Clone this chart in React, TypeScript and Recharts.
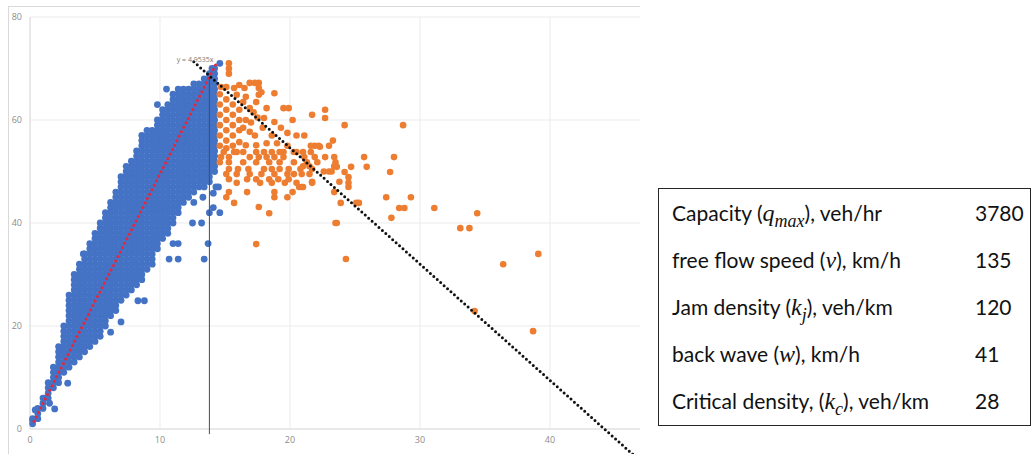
import React from 'react';
import {
  ScatterChart,
  Scatter,
  XAxis,
  YAxis,
  CartesianGrid,
  ReferenceLine,
  ReferenceDot,
} from 'recharts';

const densityTicks = [0, 10, 20, 30, 40];
const flowTicks = [0, 20, 40, 60, 80];

// uncongested cloud: per density column, the lowest and highest flow seen
const cloudDensity = [
  0.2, 0.6, 1.0, 1.4, 1.8, 2.2, 2.6, 3.0, 3.4, 3.8, 4.2, 4.6, 5.0, 5.4, 5.8, 6.2, 6.6, 7.0,
  7.4, 7.8, 8.2, 8.6, 9.0, 9.4, 9.8, 10.2, 10.6, 11.0, 11.4, 11.8, 12.2, 12.6, 13.0, 13.4, 13.8, 14.2,
];
const cloudFlowLow = [
  1, 2, 4, 6, 8, 9, 11, 12, 13, 14, 15, 16, 17, 18, 20, 22, 23, 25,
  26, 27, 28, 29, 31, 32, 35, 37, 38, 40, 42, 44, 45, 46, 47, 47, 48, 50,
];
const cloudFlowHigh = [
  2, 4, 6, 9, 12, 16, 20, 26, 30, 32, 34, 36, 38, 40, 42, 44, 46, 49,
  50, 52, 54, 57, 58, 58, 60, 62, 63, 65, 66, 66, 66, 67, 67, 68, 69, 70,
];

// scattered uncongested observations outside the cloud
const freeFlowStray: [number, number][] = [
  [0.2, 1.7], [0.4, 3.7], [1.1, 6], [1.5, 5], [1.9, 3.9], [2.9, 8.9], [4.1, 34], [6.2, 18.8],
  [7.0, 20.8], [7.4, 51], [8.3, 24.9], [8.8, 24.9], [9.8, 63], [10.5, 66], [10.7, 33], [11.4, 33],
  [11.4, 36], [11.0, 36], [12.5, 40], [13.2, 40], [13.4, 33], [13.7, 36], [13.8, 42], [14.6, 42],
  [14.1, 43], [14.1, 45.8], [14.3, 47], [14.5, 47], [13.3, 45], [12.6, 44], [13.3, 49], [14.6, 71],
  [14.0, 70],
];

// congested observations
const congestedPoints: [number, number][] = [
  [15.3, 71], [15.3, 70], [15.3, 69], [14.7, 66.4], [15.1, 66.4], [15.7, 66.2], [16.1, 66.8],
  [16.5, 66.2], [16.9, 67.2], [17.3, 67.2], [17.6, 67.2], [17.6, 66.2], [17.8, 65.4], [18.8, 65.2],
  [15.9, 64.9], [17.6, 64.9], [16.4, 63.5], [17.4, 63.5], [19.5, 62.3], [19.9, 62.3], [16.9, 62.3],
  [18.2, 62.3], [22.7, 62], [21.7, 61], [18, 60.4], [18.8, 59.6], [20.2, 60], [22.7, 60.4],
  [24.2, 59], [28.7, 59], [20.5, 57], [21.1, 57], [16.9, 57.7], [17.3, 57], [18.6, 57], [23.3, 56],
  [16.1, 55.7], [16.6, 55.1], [17.4, 55.1], [18.2, 55.5], [19, 55.5], [19.8, 55], [21.9, 55],
  [22.3, 54.8], [23, 55], [21.6, 55], [22.2, 55],
  [15.9, 53.8], [16.4, 53.8], [17.4, 53.8], [18.6, 53.8], [19.2, 53.8], [20.3, 53.8], [21.6, 53.8],
  [14.9, 53.8], [15.7, 53.8], [18, 53.8], [19.5, 53.8], [20.5, 53.8], [21, 53.8],
  [14.7, 52.8], [15.3, 52.8], [16.9, 52.8], [17.6, 52.8], [18.2, 52.8], [18.8, 52.8], [19.5, 52.8],
  [21.1, 52.8], [21.9, 52.8], [22.7, 52.8], [23.4, 52.8], [25.7, 52.8], [28, 52.8],
  [14.6, 51.8], [15.3, 51.8], [16.4, 51.8], [17.4, 51.8], [18.4, 51.8], [19.2, 51.8], [20.3, 51.8],
  [21.3, 51.8], [22.1, 51.8], [23.5, 51.8], [23.4, 51],
  [15.3, 50.5], [16, 50.5], [16.8, 50.5], [18, 50.5], [18.6, 50.5], [19.2, 50.5], [19.9, 50.5],
  [20.8, 50.5], [21.7, 50.5], [23.6, 50.9], [24.7, 50.9], [25.9, 50.9], [21, 51], [21.5, 51],
  [15.1, 49.5], [15.9, 49.5], [16.9, 49.5], [17.8, 49.5], [18.8, 49.5], [19.8, 49.5], [20.3, 49.5],
  [20.9, 49.5], [21.5, 49.5], [22.6, 50], [23, 50], [23.2, 50], [24.2, 49.9], [27.7, 49.9],
  [15.3, 48.5], [16.7, 48.5], [17.4, 48.5], [18.4, 48.5], [19.1, 48.5], [19.9, 48.5], [24.5, 48.9],
  [23.8, 48], [21.7, 48],
  [15.9, 47.8], [17.7, 47.8], [18.6, 47.8], [19.6, 47.8], [20.5, 47.8], [21.7, 47.8], [24.5, 47.8],
  [20.7, 47], [20.9, 47], [21, 47], [24.5, 47],
  [15.3, 46], [16.7, 46], [18.8, 46], [20.2, 46], [23.4, 46], [15.1, 45], [19.8, 45], [18.8, 45],
  [27.4, 45], [29.3, 45],
  [15.7, 43.9], [17.6, 43.1], [18.4, 41.9], [23.9, 43.9], [25.1, 43.9], [25.3, 43.9], [28.4, 42.9],
  [28.8, 42.9], [31.1, 42.9], [27.8, 41], [34.4, 41.9], [23.5, 40], [23.6, 40], [33.1, 39],
  [33.8, 39], [17.4, 35.9], [24.3, 33], [36.4, 32], [39.1, 34], [34.2, 22.9], [38.7, 19],
  [14.6, 65], [14.6, 63], [14.6, 61], [14.6, 59], [14.6, 57], [14.6, 55], [15.1, 64], [15.1, 62],
  [15.1, 60], [15.1, 58], [15.1, 56], [15.1, 54.5], [15.6, 63], [15.6, 61], [15.6, 59], [15.6, 57],
  [15.6, 55], [16.1, 62], [16.1, 60], [16.1, 58], [16.6, 60], [16.4, 58.5], [17, 59.5], [17.5, 60.5],
  [17.9, 58.5], [19.3, 58.5], [19.8, 57.5], [16.6, 64.5], [17.2, 61.5],
];

// linear fit through the origin for the uncongested branch
const trendSlope = 4.9535;
const trendFrom = 0.3;
const trendTo = 14.4;
const criticalDensity = 13.8;
// congested branch (back wave)
const backWave: [number, number][] = [[12.6, 71.3], [46.4, -5]];

const tableLabels = [
  ['Capacity (', 'q', 'max', '), veh/hr'],
  ['free flow speed (', 'v', '', '), km/h'],
  ['Jam density (', 'k', 'j', '), veh/km'],
  ['back wave (', 'w', '', '), km/h'],
  ['Critical density, (', 'k', 'c', '), veh/km'],
];
const tableValues = ['3780', '135', '120', '41', '28'];

const freeFlowData = [
  ...cloudDensity.flatMap((x, i) => {
    const pts: { x: number; y: number }[] = [];
    for (let q = cloudFlowLow[i]; q <= cloudFlowHigh[i]; q++) pts.push({ x, y: q });
    return pts;
  }),
  ...freeFlowStray.map(([x, y]) => ({ x, y })),
];
const congestedData = congestedPoints.map(([x, y]) => ({ x, y }));
const trendData = [trendFrom, trendTo].map((x) => ({ x, y: trendSlope * x }));

const dot = (color: string, r: number) => (props: any) =>
  <circle cx={props.cx} cy={props.cy} r={r} fill={color} />;
const noDot = () => <g />;

const tickStyle = { fontSize: 9, fill: '#8c8c8c', fontFamily: 'Open Sans' };
const mathFont = "'Liberation Serif', serif";

export default function App() {
  return (
    <div style={{ position: 'absolute', left: 0, top: 0, width: 1034, height: 454, background: '#fff', overflow: 'hidden' }}>
      <div style={{ position: 'absolute', left: 0, top: 0, width: 640, height: 454, overflow: 'hidden' }}>
        <div style={{ position: 'absolute', left: 8, top: 6, width: 700, height: 500, borderLeft: '1px solid #d9d9d9', borderTop: '1px solid #d9d9d9' }} />
        <ScatterChart width={700} height={454} margin={{ top: 17, right: 20, bottom: 5, left: 0 }}>
          <CartesianGrid stroke="#ebebeb" />
          <XAxis
            type="number"
            dataKey="x"
            domain={[0, 50]}
            ticks={densityTicks}
            height={20}
            axisLine={{ stroke: '#dcdcdc' }}
            tickLine={false}
            tick={tickStyle}
          />
          <YAxis
            type="number"
            dataKey="y"
            domain={[0, 80]}
            ticks={flowTicks}
            width={30}
            axisLine={{ stroke: '#dcdcdc' }}
            tickLine={false}
            tick={tickStyle}
          />
          <Scatter data={freeFlowData} fill="#4472c4" shape={dot('#4472c4', 3.4)} isAnimationActive={false} />
          <Scatter data={congestedData} fill="#ed7d31" shape={dot('#ed7d31', 3.3)} isAnimationActive={false} />
          <Scatter
            data={trendData}
            fill="#e8253a"
            shape={noDot}
            line={{ stroke: '#e8253a', strokeWidth: 3, strokeDasharray: '0 5', strokeLinecap: 'round' }}
            lineType="joint"
            isAnimationActive={false}
          />
          <ReferenceLine
            segment={[{ x: criticalDensity, y: -1 }, { x: criticalDensity, y: trendSlope * criticalDensity }]}
            stroke="#4d4d4d"
            strokeWidth={1}
            ifOverflow="visible"
            zIndex={700}
          />
          <ReferenceLine
            segment={backWave.map(([x, y]) => ({ x, y }))}
            stroke="#111"
            strokeWidth={3}
            strokeDasharray="0 4.6"
            strokeLinecap="round"
            ifOverflow="visible"
            zIndex={700}
          />
          <ReferenceDot
            x={12.7}
            y={71.8}
            r={0}
            fill="none"
            stroke="none"
            ifOverflow="visible"
            zIndex={800}
            label={{ value: `y = ${trendSlope}x`, position: 'center', fontSize: 7, fill: '#7a7a7a', fontFamily: 'Open Sans' }}
          />
        </ScatterChart>
      </div>
      <div
        style={{
          position: 'absolute', left: 658, top: 188, width: 371, height: 236,
          border: '1.5px solid #262626', fontFamily: 'Lato', fontSize: 21, color: '#111',
        }}
      >
        {tableLabels.map(([pre, sym, sub, post], i) => (
          <div key={i} style={{ position: 'absolute', left: 0, top: i * 47, width: 371, height: 47, lineHeight: '47px' }}>
            <span style={{ position: 'absolute', left: 13, whiteSpace: 'nowrap' }}>
              {pre}
              <span style={{ fontFamily: mathFont, fontStyle: 'italic', fontSize: 24 }}>{sym}</span>
              {sub && (
                <span style={{ fontFamily: mathFont, fontStyle: 'italic', fontSize: 18, position: 'relative', top: 6 }}>{sub}</span>
              )}
              {post}
            </span>
            <span style={{ position: 'absolute', left: 316 }}>{tableValues[i]}</span>
          </div>
        ))}
      </div>
    </div>
  );
}
